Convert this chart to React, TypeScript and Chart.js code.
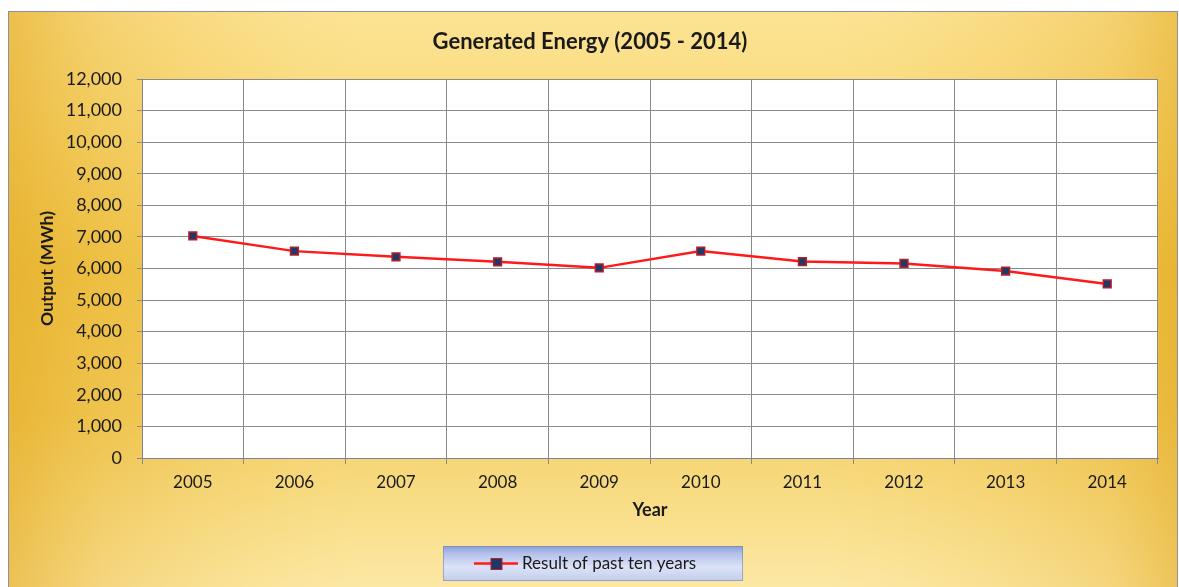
import React, { useEffect, useRef } from "react";
import { Chart, registerables } from "chart.js";

Chart.register(...registerables);

const chartTitle = "Generated Energy (2005 - 2014)";
const years = ["2005", "2006", "2007", "2008", "2009", "2010", "2011", "2012", "2013", "2014"];
const output = [7030, 6550, 6370, 6210, 6020, 6550, 6220, 6160, 5920, 5510];
const seriesName = "Result of past ten years";
const yAxisTitle = "Output (MWh)";
const xAxisTitle = "Year";
const yMin = 0;
const yMax = 12000;
const yStep = 1000;

const FONT = "Lato, 'Open Sans', sans-serif";

const backgroundPlugin = {
  id: "goldBackground",
  beforeDraw(chart: any) {
    const { ctx, width, height, chartArea } = chart;
    ctx.save();
    ctx.fillStyle = "#ffffff";
    ctx.fillRect(0, 0, width, height);
    const x0 = 8, y0 = 11, x1 = width - 2, y1 = height + 2;
    const v = ctx.createLinearGradient(0, y0, 0, height);
    v.addColorStop(0, "#FCE292");
    v.addColorStop(0.2, "#F8D875");
    v.addColorStop(0.45, "#F0C54C");
    v.addColorStop(0.7, "#F2CB5C");
    v.addColorStop(0.88, "#F8DD88");
    v.addColorStop(1, "#FCE7A4");
    ctx.fillStyle = v;
    ctx.fillRect(x0, y0, x1 - x0, y1 - y0);
    const h = ctx.createLinearGradient(x0, 0, x1, 0);
    h.addColorStop(0, "rgba(226,168,30,0.6)");
    h.addColorStop(0.08, "rgba(230,175,40,0.3)");
    h.addColorStop(0.3, "rgba(255,235,160,0.15)");
    h.addColorStop(0.7, "rgba(255,235,160,0.15)");
    h.addColorStop(0.94, "rgba(230,175,40,0.3)");
    h.addColorStop(1, "rgba(226,168,30,0.55)");
    ctx.fillStyle = h;
    ctx.fillRect(x0, y0, x1 - x0, y1 - y0);
    ctx.strokeStyle = "#8e8ea6";
    ctx.lineWidth = 1;
    ctx.strokeRect(x0 + 0.5, y0 + 0.5, x1 - x0, y1 - y0);
    // plot area
    ctx.fillStyle = "#ffffff";
    ctx.fillRect(chartArea.left, chartArea.top, chartArea.right - chartArea.left, chartArea.bottom - chartArea.top);
    // title
    ctx.fillStyle = "#1a1a1a";
    ctx.font = `bold 22px ${FONT}`;
    ctx.textAlign = "center";
    ctx.textBaseline = "middle";
    ctx.fillText(chartTitle, 590, 42);
    ctx.restore();
  },
  afterDraw(chart: any) {
    const { ctx } = chart;
    ctx.save();
    const bx = 443, by = 546, bw = 300, bh = 35;
    const g = ctx.createLinearGradient(0, by, 0, by + bh);
    g.addColorStop(0, "#8A9DD6");
    g.addColorStop(0.22, "#B3C1EB");
    g.addColorStop(0.6, "#DCE3F7");
    g.addColorStop(1, "#C3CEEC");
    ctx.fillStyle = g;
    ctx.fillRect(bx, by, bw, bh);
    ctx.strokeStyle = "rgba(120,130,170,0.6)";
    ctx.lineWidth = 1;
    ctx.strokeRect(bx + 0.5, by + 0.5, bw - 1, bh - 1);
    const cy = by + bh / 2;
    ctx.strokeStyle = "#ff1a1a";
    ctx.lineWidth = 2.5;
    ctx.beginPath();
    ctx.moveTo(474, cy);
    ctx.lineTo(518, cy);
    ctx.stroke();
    ctx.fillStyle = "#1F3867";
    ctx.fillRect(491, cy - 5, 11, 11);
    ctx.strokeStyle = "#B0202A";
    ctx.lineWidth = 1;
    ctx.strokeRect(491, cy - 5, 11, 11);
    ctx.fillStyle = "#1a1a1a";
    ctx.font = `17px ${FONT}`;
    ctx.textAlign = "left";
    ctx.textBaseline = "middle";
    ctx.fillText(seriesName, 522, cy);
    ctx.restore();
  },
};

export default function App() {
  const canvasRef = useRef<HTMLCanvasElement | null>(null);

  useEffect(() => {
    document.body.style.margin = "0";
    const canvas = canvasRef.current;
    if (!canvas) return;
    const chart = new Chart(canvas, {
      type: "line",
      data: {
        labels: years,
        datasets: [
          {
            label: seriesName,
            data: output,
            borderColor: "#ff1a1a",
            borderWidth: 2.5,
            pointStyle: "rect",
            pointRadius: 5.5,
            pointBackgroundColor: "#1F3867",
            pointBorderColor: "#B0202A",
            pointBorderWidth: 1.5,
            tension: 0,
            fill: false,
          },
        ],
      },
      options: {
        responsive: false,
        animation: false,
        layout: { padding: { left: 0, top: 79, right: 21, bottom: 59 } },
        plugins: {
          legend: { display: false },
          title: { display: false },
          tooltip: { enabled: false },
        },
        scales: {
          x: {
            type: "category",
            offset: true,
            grid: { offset: true, color: "#8a8a8a", lineWidth: 1, tickLength: 6, drawTicks: true },
            border: { color: "#8080a0", width: 1 },
            ticks: { color: "#1a1a1a", font: { family: FONT, size: 17 }, padding: 8, maxRotation: 0 },
            title: {
              display: true,
              text: xAxisTitle,
              color: "#1a1a1a",
              font: { family: FONT, size: 18, weight: "bold" },
              padding: { top: 0, bottom: 7 },
            },
            afterFit(scale: any) {
              scale.height = 70;
            },
          },
          y: {
            min: yMin,
            max: yMax,
            grid: { color: "#8a8a8a", lineWidth: 1, tickLength: 5, drawTicks: true },
            border: { color: "#8080a0", width: 1 },
            ticks: {
              stepSize: yStep,
              color: "#1a1a1a",
              font: { family: FONT, size: 18 },
              padding: 15,
              callback: (v: any) => Number(v).toLocaleString("en-US"),
            },
            title: {
              display: true,
              text: yAxisTitle,
              color: "#1a1a1a",
              font: { family: FONT, size: 17.5, weight: "bold" },
              padding: { top: 37, bottom: 0 },
            },
            afterFit(scale: any) {
              scale.width = 142;
            },
          },
        },
      },
      plugins: [backgroundPlugin],
    });
    return () => chart.destroy();
  }, []);

  return (
    <div style={{ position: "fixed", left: 0, top: 0, width: 1179, height: 587 }}>
      <canvas ref={canvasRef} width={1179} height={587} style={{ width: 1179, height: 587, display: "block" }} />
    </div>
  );
}
